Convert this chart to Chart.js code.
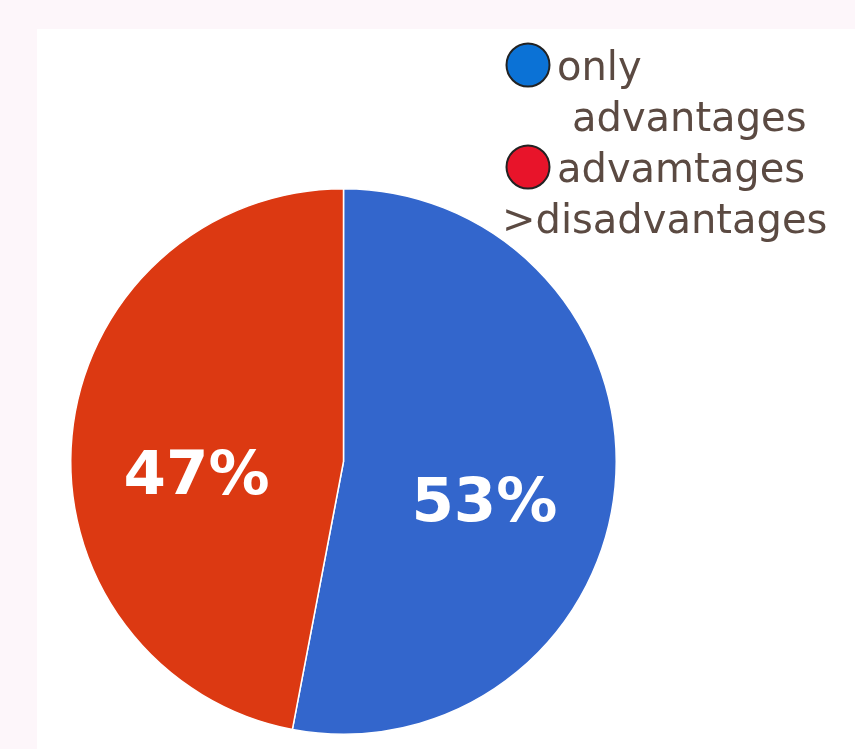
<!DOCTYPE html>
<html>
<head>
<meta charset="utf-8">
<script src="https://cdn.jsdelivr.net/npm/chart.js@4/dist/chart.umd.min.js"></script>
<style>
  html, body { margin: 0; padding: 0; }
  body { width: 855px; height: 749px; background: #fdf6fa; position: relative; overflow: hidden; }
  #panel { position: absolute; left: 37px; top: 29px; right: 0; bottom: 0; background: #ffffff; }
  #wrap { position: absolute; left: 0; top: 0; width: 855px; height: 749px; }
</style>
</head>
<body>
<div id="panel"></div>
<div id="wrap"><canvas id="pieChart" width="855" height="749"></canvas></div>
<script>
  const labels = ["only advantages", "advamtages >disadvantages"];
  const values = [53, 47];
  const sliceColors = ["#3366cc", "#dc3912"];
  const legendColors = ["#0b72d6", "#e8142a"];
  // how each legend entry wraps
  const legendLines = [["only", "advantages"], ["advamtages", ">disadvantages"]];

  // custom legend, drawn like the original (circle + wrapped text)
  const legendPlugin = {
    id: "sideLegend",
    afterDraw(chart) {
      const ctx = chart.ctx;
      ctx.save();
      ctx.font = "40px 'DejaVu Sans'";
      ctx.textBaseline = "alphabetic";
      ctx.textAlign = "left";
      legendLines.forEach(function (lines, i) {
        const top = 80 + i * 102;
        ctx.beginPath();
        ctx.arc(528, top - 15, 21.5, 0, Math.PI * 2);
        ctx.fillStyle = legendColors[i];
        ctx.fill();
        ctx.lineWidth = 2;
        ctx.strokeStyle = "#222222";
        ctx.stroke();
        ctx.fillStyle = "#5b4a42";
        ctx.fillText(lines[0], 557, top);
        ctx.fillText(lines[1], i === 0 ? 572 : 502, top + 51);
      });
      ctx.restore();
    }
  };

  // percent labels inside the slices
  const pctPlugin = {
    id: "pctLabels",
    afterDatasetsDraw(chart) {
      const ctx = chart.ctx;
      const meta = chart.getDatasetMeta(0);
      const total = values.reduce(function (a, b) { return a + b; }, 0);
      ctx.save();
      ctx.font = "bold 61px 'DejaVu Sans'";
      ctx.fillStyle = "#ffffff";
      ctx.textAlign = "center";
      ctx.textBaseline = "top";
      meta.data.forEach(function (arc, i) {
        const p = arc.getProps(["x", "y", "startAngle", "endAngle", "outerRadius"], true);
        const mid = (p.startAngle + p.endAngle) / 2;
        const r = p.outerRadius * 0.53;
        const x = p.x + Math.cos(mid) * r - 3;
        const y = p.y + Math.sin(mid) * r;
        ctx.fillText(Math.round(values[i] / total * 100) + "%", x, y);
      });
      ctx.restore();
    }
  };

  const data = {
    labels: labels,
    datasets: [
      {
        data: values,
        backgroundColor: sliceColors,
        borderColor: "#ffffff",
        borderWidth: 1.5,
      },
    ],
  };

  const config = {
    type: "pie",
    data: data,
    options: {
      responsive: false,
      animation: false,
      layout: {
        padding: { left: 70, right: 238, top: 187, bottom: 13 },
      },
      plugins: {
        legend: { display: false },
        tooltip: { enabled: false },
      },
    },
    plugins: [pctPlugin, legendPlugin],
  };

  new Chart(document.getElementById("pieChart"), config);
</script>
</body>
</html>
